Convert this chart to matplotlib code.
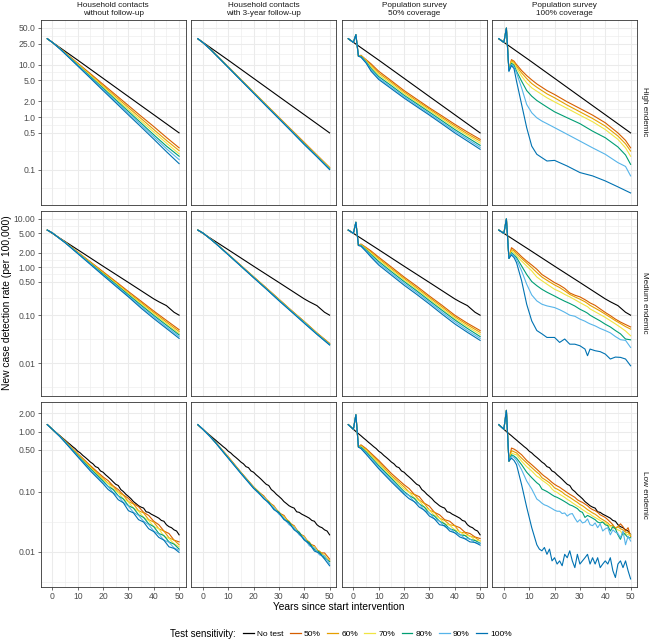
import numpy as np
import matplotlib
matplotlib.use("Agg")
import matplotlib.pyplot as plt
from matplotlib.lines import Line2D
from matplotlib.ticker import FixedLocator, NullFormatter

plt.rcParams['font.family'] = ['Liberation Sans', 'DejaVu Sans']

# ---------------- data ----------------
series_labels = ["No test", "50%", "60%", "70%", "80%", "90%", "100%"]
series_colors = ["#000000", "#D55E00", "#E69F00", "#F0E442", "#009E73", "#56B4E9", "#0072B2"]
col_titles = [("Household contacts", "without follow-up"), ("Household contacts", "with 3-year follow-up"),
              ("Population survey", "50% coverage"), ("Population survey", "100% coverage")]
row_titles = ["High endemic", "Medium endemic", "Low endemic"]

# "No test" reference line per endemic level
black_high_yrs = [-2, 10, 20, 30, 40, 50]
black_high = [31.0, 12.15, 5.47, 2.46, 1.11, 0.50]
black_med_yrs = [-2, 10, 20, 30, 38, 40, 42, 44, 45, 46, 48, 50]
black_med = [5.85, 2.29, 1.04, 0.478, 0.255, 0.218, 0.19, 0.168, 0.158, 0.142, 0.115, 0.10]
black_low_yrs = list(range(-2, 51))
black_low = [1.30, 1.19, 1.09, 1.00, 0.92, 0.85, 0.78, 0.72, 0.66, 0.61, 0.56, 0.52, 0.47,
             0.44, 0.40, 0.37, 0.34, 0.31, 0.29, 0.26, 0.25, 0.22, 0.21, 0.19, 0.175, 0.16,
             0.145, 0.132, 0.126, 0.108, 0.10, 0.09, 0.083, 0.076, 0.068, 0.063, 0.058, 0.055,
             0.053, 0.046, 0.045, 0.042, 0.040, 0.038, 0.036, 0.033, 0.032, 0.028, 0.026, 0.025,
             0.023, 0.022, 0.019]

# test-sensitivity series (50%, 60%, 70%, 80%, 90%, 100%) per panel
yrs_hh = [-2, 0, 3, 5, 10, 15, 20, 25, 30, 35, 40, 45, 50]
yrs_pop50 = [-2, 0, 1, 2, 3, 5, 7, 10, 15, 20, 25, 30, 35, 40, 45, 50]
yrs_pop100_high = [-2, 0, 1, 2, 3, 4, 5, 7, 9, 11, 13, 15, 17, 20, 25, 30, 35, 40, 45, 48, 50]
yrs_pop100_med = [-2, 0, 1, 2, 3, 4, 5, 7, 9, 11, 13, 15, 17, 20, 22, 24, 26, 28, 30, 32, 33,
                  34, 36, 38, 40, 42, 44, 46, 48, 50]
yrs_low_hh = [-2, 0, 3, 5, 10, 15, 20, 22, 24, 26, 28, 30, 32, 34, 36, 38, 40, 42, 44, 46, 48, 50]
yrs_low_pop50 = [-2, 0, 1, 2, 3, 5, 10, 15, 20, 22, 24, 26, 28, 30, 32, 34, 36, 38, 40, 42, 44,
                 46, 48, 50]
yrs_low_pop100 = [-2, 0, 1, 2, 3, 4, 5, 7, 9, 11] + list(range(13, 51))

high_hh_nofu = [
    [31, 26.4, 20.3, 16.9, 10.6, 6.7, 4.2, 2.64, 1.66, 1.04, 0.66, 0.41, 0.26],
    [31, 26.4, 20.2, 16.7, 10.3, 6.4, 3.95, 2.45, 1.52, 0.94, 0.58, 0.36, 0.23],
    [31, 26.4, 20.1, 16.5, 10.1, 6.2, 3.75, 2.28, 1.39, 0.85, 0.52, 0.32, 0.20],
    [31, 26.4, 20.0, 16.4, 9.8, 5.9, 3.55, 2.13, 1.28, 0.77, 0.46, 0.28, 0.18],
    [31, 26.4, 19.9, 16.2, 9.6, 5.7, 3.38, 2.0, 1.19, 0.71, 0.42, 0.25, 0.155],
    [31, 26.4, 19.8, 16.0, 9.4, 5.5, 3.2, 1.88, 1.10, 0.65, 0.38, 0.22, 0.13],
]
high_hh_fu3 = [
    [31, 26.2, 19.6, 15.8, 9.1, 5.2, 3.0, 1.72, 0.99, 0.57, 0.33, 0.19, 0.110],
    [31, 26.2, 19.5, 15.7, 9.0, 5.15, 2.97, 1.70, 0.97, 0.56, 0.32, 0.186, 0.108],
    [31, 26.2, 19.5, 15.6, 8.95, 5.1, 2.94, 1.68, 0.96, 0.55, 0.315, 0.183, 0.106],
    [31, 26.2, 19.4, 15.5, 8.9, 5.08, 2.91, 1.66, 0.95, 0.545, 0.31, 0.18, 0.104],
    [31, 26.2, 19.4, 15.5, 8.85, 5.04, 2.88, 1.64, 0.94, 0.54, 0.305, 0.178, 0.102],
    [31, 26.2, 19.3, 15.4, 8.8, 5.0, 2.85, 1.62, 0.93, 0.53, 0.30, 0.175, 0.100],
]
high_pop50 = [
    [31, 26.4, 37, 14.4, 15.0, 12.4, 10.3, 7.46, 4.9, 3.2, 2.19, 1.5, 1.05, 0.73, 0.52, 0.377],
    [31, 26.4, 37, 14.4, 14.8, 12.0, 9.6, 6.9, 4.6, 3.0, 2.05, 1.42, 0.98, 0.68, 0.48, 0.35],
    [31, 26.4, 37, 14.4, 14.5, 11.7, 9.0, 6.4, 4.3, 2.8, 1.92, 1.33, 0.92, 0.63, 0.45, 0.32],
    [31, 26.4, 37, 14.4, 14.3, 11.3, 8.4, 5.9, 3.95, 2.6, 1.8, 1.24, 0.85, 0.58, 0.41, 0.29],
    [31, 26.4, 37, 14.4, 14.0, 11.0, 7.9, 5.5, 3.7, 2.45, 1.68, 1.16, 0.79, 0.54, 0.38, 0.266],
    [31, 26.4, 37, 14.4, 13.8, 10.7, 7.46, 5.2, 3.46, 2.3, 1.58, 1.09, 0.74, 0.5, 0.35, 0.244],
]
high_pop100 = [
    [31, 26.4, 49.5, 7.7, 12.4, 11.6, 9.99, 7.7, 6.17, 5.1, 4.28, 3.7, 3.2, 2.69, 1.95, 1.46, 1.09, 0.78, 0.50, 0.36, 0.26],
    [31, 26.4, 49.5, 7.7, 11.9, 11.0, 9.28, 6.93, 5.41, 4.35, 3.7, 3.2, 2.77, 2.33, 1.69, 1.26, 0.94, 0.675, 0.436, 0.31, 0.226],
    [31, 26.4, 49.5, 7.7, 11.2, 10.4, 8.6, 6.0, 4.48, 3.6, 3.11, 2.69, 2.33, 1.95, 1.46, 1.09, 0.816, 0.58, 0.377, 0.26, 0.18],
    [31, 26.4, 49.5, 7.7, 10.6, 9.7, 7.46, 4.82, 3.2, 2.5, 2.07, 1.79, 1.55, 1.26, 0.97, 0.75, 0.54, 0.405, 0.27, 0.19, 0.126],
    [31, 26.4, 49.5, 7.46, 9.99, 9.0, 6.93, 3.6, 1.74, 1.21, 0.97, 0.84, 0.75, 0.63, 0.47, 0.35, 0.26, 0.196, 0.136, 0.115, 0.076],
    [31, 26.4, 49.5, 7.46, 9.54, 8.4, 4.82, 1.74, 0.63, 0.28, 0.196, 0.169, 0.146, 0.15, 0.117, 0.088, 0.076, 0.061, 0.047, 0.040, 0.036],
]

med_hh_nofu = [
    [5.85, 5.1, 3.9, 3.3, 2.05, 1.28, 0.80, 0.50, 0.31, 0.195, 0.122, 0.078, 0.050],
    [5.85, 5.1, 3.89, 3.28, 2.02, 1.25, 0.77, 0.48, 0.29, 0.183, 0.114, 0.072, 0.046],
    [5.85, 5.1, 3.88, 3.26, 1.99, 1.22, 0.74, 0.46, 0.28, 0.172, 0.106, 0.067, 0.042],
    [5.85, 5.1, 3.87, 3.24, 1.96, 1.19, 0.72, 0.44, 0.265, 0.161, 0.099, 0.062, 0.039],
    [5.85, 5.1, 3.86, 3.22, 1.93, 1.16, 0.69, 0.42, 0.25, 0.15, 0.092, 0.057, 0.036],
    [5.85, 5.1, 3.85, 3.20, 1.90, 1.13, 0.67, 0.40, 0.24, 0.14, 0.085, 0.053, 0.033],
]
med_hh_fu3 = [
    [5.85, 5.1, 3.85, 3.15, 1.85, 1.08, 0.63, 0.37, 0.215, 0.125, 0.074, 0.043, 0.026],
    [5.85, 5.1, 3.84, 3.14, 1.84, 1.07, 0.625, 0.365, 0.212, 0.123, 0.073, 0.042, 0.0255],
    [5.85, 5.1, 3.83, 3.13, 1.83, 1.06, 0.62, 0.36, 0.209, 0.122, 0.072, 0.042, 0.025],
    [5.85, 5.1, 3.82, 3.12, 1.82, 1.05, 0.61, 0.355, 0.206, 0.12, 0.071, 0.041, 0.0248],
    [5.85, 5.1, 3.81, 3.11, 1.81, 1.045, 0.605, 0.352, 0.203, 0.119, 0.07, 0.0405, 0.0244],
    [5.85, 5.1, 3.80, 3.10, 1.80, 1.04, 0.60, 0.35, 0.20, 0.117, 0.068, 0.040, 0.024],
]
med_pop50 = [
    [5.85, 5.0, 8.5, 2.8, 3.0, 2.55, 2.15, 1.6, 1.0, 0.62, 0.40, 0.25, 0.16, 0.10, 0.068, 0.048],
    [5.85, 5.0, 8.5, 2.8, 2.95, 2.46, 2.03, 1.5, 0.93, 0.58, 0.37, 0.233, 0.148, 0.093, 0.063, 0.044],
    [5.85, 5.0, 8.5, 2.8, 2.89, 2.37, 1.92, 1.4, 0.87, 0.54, 0.345, 0.216, 0.137, 0.086, 0.058, 0.040],
    [5.85, 5.0, 8.5, 2.8, 2.83, 2.28, 1.81, 1.3, 0.80, 0.50, 0.32, 0.2, 0.126, 0.08, 0.053, 0.036],
    [5.85, 5.0, 8.5, 2.8, 2.76, 2.19, 1.7, 1.2, 0.74, 0.46, 0.295, 0.185, 0.115, 0.073, 0.048, 0.033],
    [5.85, 5.0, 8.5, 2.8, 2.7, 2.1, 1.6, 1.1, 0.68, 0.42, 0.27, 0.17, 0.105, 0.066, 0.044, 0.030],
]
med_pop100 = [
    [5.85, 5.0, 10.0, 1.51, 2.52, 2.31, 2.08, 1.64, 1.33, 1.10, 0.90, 0.70, 0.60, 0.475, 0.42, 0.36, 0.29, 0.26, 0.24, 0.21, 0.195, 0.18, 0.16, 0.135, 0.114, 0.098, 0.083, 0.072, 0.064, 0.057],
    [5.85, 5.0, 10.0, 1.51, 2.31, 2.16, 1.89, 1.51, 1.21, 0.97, 0.77, 0.62, 0.53, 0.425, 0.375, 0.32, 0.27, 0.24, 0.215, 0.19, 0.175, 0.16, 0.14, 0.122, 0.105, 0.09, 0.077, 0.067, 0.058, 0.0514],
    [5.85, 5.0, 10.0, 1.51, 2.16, 1.99, 1.70, 1.33, 1.05, 0.83, 0.62, 0.52, 0.44, 0.345, 0.31, 0.27, 0.24, 0.21, 0.183, 0.16, 0.15, 0.135, 0.118, 0.103, 0.09, 0.077, 0.066, 0.056, 0.047, 0.0374],
    [5.85, 5.0, 10.0, 1.51, 1.99, 1.78, 1.57, 1.05, 0.70, 0.50, 0.41, 0.345, 0.30, 0.25, 0.22, 0.195, 0.175, 0.155, 0.133, 0.118, 0.11, 0.10, 0.087, 0.076, 0.065, 0.057, 0.048, 0.041, 0.032, 0.0308],
    [5.85, 5.0, 10.0, 1.51, 1.89, 1.70, 1.44, 0.83, 0.44, 0.263, 0.198, 0.169, 0.156, 0.144, 0.13, 0.115, 0.10, 0.095, 0.083, 0.075, 0.07, 0.066, 0.06, 0.053, 0.048, 0.043, 0.036, 0.031, 0.030, 0.0214],
    [5.85, 5.0, 10.0, 1.51, 1.78, 1.57, 1.23, 0.52, 0.169, 0.076, 0.048, 0.041, 0.0345, 0.0345, 0.0272, 0.032, 0.025, 0.025, 0.0232, 0.0198, 0.0144, 0.0198, 0.0183, 0.0175, 0.0156, 0.0123, 0.0135, 0.0133, 0.0123, 0.0089],
]

low_hh_nofu = [
    [1.3, 1.09, 0.84, 0.70, 0.43, 0.27, 0.175, 0.152, 0.124, 0.108, 0.088, 0.077, 0.063, 0.056, 0.045, 0.04, 0.032, 0.028, 0.022, 0.02, 0.0155, 0.0145],
    [1.3, 1.09, 0.84, 0.69, 0.42, 0.26, 0.165, 0.138, 0.122, 0.098, 0.087, 0.068, 0.062, 0.048, 0.044, 0.034, 0.031, 0.024, 0.022, 0.017, 0.0155, 0.013],
    [1.3, 1.09, 0.83, 0.68, 0.41, 0.25, 0.157, 0.136, 0.11, 0.096, 0.076, 0.067, 0.053, 0.047, 0.037, 0.033, 0.026, 0.024, 0.018, 0.0165, 0.0135, 0.012],
    [1.3, 1.09, 0.83, 0.675, 0.40, 0.24, 0.15, 0.122, 0.108, 0.085, 0.075, 0.058, 0.053, 0.041, 0.037, 0.029, 0.026, 0.02, 0.0185, 0.0145, 0.0133, 0.011],
    [1.3, 1.09, 0.82, 0.67, 0.39, 0.23, 0.142, 0.12, 0.096, 0.084, 0.066, 0.057, 0.045, 0.04, 0.032, 0.028, 0.022, 0.0195, 0.0155, 0.0143, 0.0115, 0.0105],
    [1.3, 1.09, 0.82, 0.66, 0.38, 0.22, 0.135, 0.108, 0.094, 0.073, 0.065, 0.048, 0.044, 0.034, 0.031, 0.024, 0.0215, 0.0172, 0.0155, 0.012, 0.0113, 0.0097],
]
low_hh_fu3 = [
    [1.3, 1.09, 0.82, 0.66, 0.38, 0.21, 0.12, 0.098, 0.085, 0.066, 0.058, 0.044, 0.04, 0.03, 0.027, 0.02, 0.018, 0.0135, 0.0125, 0.0095, 0.0095, 0.0075],
    [1.3, 1.09, 0.82, 0.66, 0.375, 0.208, 0.118, 0.1, 0.08, 0.069, 0.054, 0.046, 0.037, 0.032, 0.025, 0.021, 0.0165, 0.0145, 0.011, 0.0102, 0.0085, 0.007],
    [1.3, 1.09, 0.815, 0.655, 0.37, 0.206, 0.117, 0.096, 0.082, 0.065, 0.056, 0.043, 0.038, 0.029, 0.026, 0.0195, 0.0175, 0.013, 0.012, 0.0092, 0.0088, 0.0068],
    [1.3, 1.09, 0.815, 0.655, 0.365, 0.204, 0.116, 0.097, 0.078, 0.066, 0.052, 0.045, 0.035, 0.031, 0.024, 0.021, 0.016, 0.014, 0.0108, 0.0098, 0.0078, 0.0068],
    [1.3, 1.09, 0.81, 0.65, 0.362, 0.202, 0.114, 0.093, 0.08, 0.063, 0.054, 0.042, 0.036, 0.028, 0.025, 0.019, 0.0168, 0.0125, 0.0115, 0.0088, 0.0085, 0.0062],
    [1.3, 1.09, 0.81, 0.65, 0.36, 0.20, 0.113, 0.095, 0.076, 0.065, 0.05, 0.044, 0.034, 0.03, 0.023, 0.02, 0.0155, 0.0135, 0.0102, 0.0094, 0.0075, 0.0058],
]
low_pop50 = [
    [1.3, 1.09, 1.9, 0.55, 0.60, 0.52, 0.33, 0.20, 0.13, 0.112, 0.09, 0.082, 0.064, 0.057, 0.045, 0.041, 0.034, 0.032, 0.027, 0.025, 0.021, 0.02, 0.0175, 0.0165],
    [1.3, 1.09, 1.9, 0.55, 0.58, 0.50, 0.31, 0.185, 0.12, 0.098, 0.089, 0.072, 0.063, 0.049, 0.045, 0.036, 0.033, 0.028, 0.027, 0.021, 0.0205, 0.018, 0.0172, 0.015],
    [1.3, 1.09, 1.9, 0.55, 0.57, 0.48, 0.29, 0.175, 0.11, 0.097, 0.079, 0.07, 0.055, 0.049, 0.04, 0.036, 0.029, 0.0275, 0.023, 0.0215, 0.0185, 0.0183, 0.0155, 0.0152],
    [1.3, 1.09, 1.9, 0.55, 0.55, 0.46, 0.27, 0.165, 0.10, 0.086, 0.077, 0.062, 0.055, 0.043, 0.039, 0.032, 0.029, 0.024, 0.0225, 0.019, 0.0185, 0.016, 0.0153, 0.0138],
    [1.3, 1.09, 1.9, 0.55, 0.53, 0.44, 0.255, 0.155, 0.095, 0.085, 0.068, 0.062, 0.048, 0.044, 0.035, 0.032, 0.026, 0.0245, 0.0205, 0.0195, 0.0165, 0.0162, 0.014, 0.0137],
    [1.3, 1.09, 1.9, 0.55, 0.52, 0.42, 0.24, 0.145, 0.09, 0.076, 0.068, 0.055, 0.049, 0.039, 0.035, 0.028, 0.027, 0.022, 0.0205, 0.0175, 0.0163, 0.0145, 0.0142, 0.0128],
]
low_pop100 = [
    [1.3, 1.09, 2.25, 0.32, 0.53, 0.51, 0.48, 0.41, 0.33, 0.28, 0.235, 0.215, 0.195, 0.18, 0.168, 0.155, 0.142, 0.132, 0.124, 0.118, 0.11, 0.103, 0.096, 0.09, 0.085, 0.08, 0.073, 0.069, 0.066, 0.062, 0.058, 0.053, 0.05, 0.048, 0.045, 0.041, 0.039, 0.037, 0.034, 0.031, 0.028, 0.024, 0.026, 0.029, 0.026, 0.022, 0.025, 0.018],
    [1.3, 1.09, 2.25, 0.32, 0.48, 0.46, 0.44, 0.36, 0.30, 0.25, 0.21, 0.195, 0.17, 0.16, 0.15, 0.14, 0.128, 0.115, 0.11, 0.104, 0.098, 0.09, 0.085, 0.08, 0.075, 0.07, 0.066, 0.061, 0.058, 0.054, 0.05, 0.047, 0.044, 0.042, 0.039, 0.036, 0.034, 0.032, 0.03, 0.027, 0.027, 0.025, 0.026, 0.024, 0.023, 0.021, 0.021, 0.018],
    [1.3, 1.09, 2.25, 0.32, 0.44, 0.42, 0.41, 0.32, 0.26, 0.22, 0.18, 0.17, 0.155, 0.145, 0.135, 0.125, 0.11, 0.101, 0.097, 0.09, 0.085, 0.08, 0.074, 0.07, 0.065, 0.061, 0.057, 0.054, 0.05, 0.047, 0.044, 0.042, 0.039, 0.037, 0.035, 0.033, 0.031, 0.030, 0.028, 0.026, 0.025, 0.024, 0.023, 0.022, 0.019, 0.020, 0.019, 0.019],
    [1.3, 1.09, 2.25, 0.32, 0.41, 0.39, 0.36, 0.28, 0.21, 0.17, 0.14, 0.13, 0.11, 0.105, 0.10, 0.094, 0.088, 0.083, 0.08, 0.076, 0.072, 0.068, 0.064, 0.06, 0.058, 0.055, 0.052, 0.047, 0.045, 0.037, 0.04, 0.038, 0.036, 0.034, 0.031, 0.030, 0.031, 0.028, 0.027, 0.022, 0.026, 0.024, 0.019, 0.016, 0.021, 0.019, 0.017, 0.017],
    [1.3, 1.09, 2.25, 0.32, 0.385, 0.37, 0.33, 0.23, 0.15, 0.11, 0.075, 0.07, 0.064, 0.06, 0.058, 0.055, 0.052, 0.049, 0.047, 0.047, 0.043, 0.044, 0.039, 0.042, 0.043, 0.036, 0.031, 0.034, 0.03, 0.031, 0.035, 0.028, 0.027, 0.03, 0.025, 0.029, 0.022, 0.024, 0.025, 0.019, 0.023, 0.021, 0.02, 0.017, 0.022, 0.013, 0.018, 0.015],
    [1.3, 1.09, 2.25, 0.32, 0.36, 0.33, 0.28, 0.13, 0.055, 0.025, 0.013, 0.011, 0.0103, 0.0117, 0.009, 0.011, 0.007, 0.0079, 0.0062, 0.007, 0.0058, 0.009, 0.0079, 0.0103, 0.007, 0.0054, 0.009, 0.0062, 0.007, 0.0079, 0.009, 0.0062, 0.0079, 0.0062, 0.0079, 0.0054, 0.0062, 0.007, 0.0062, 0.0079, 0.0048, 0.0037, 0.0062, 0.007, 0.0054, 0.007, 0.0048, 0.0035],
]

panels = [
    [(yrs_hh, high_hh_nofu), (yrs_hh, high_hh_fu3), (yrs_pop50, high_pop50), (yrs_pop100_high, high_pop100)],
    [(yrs_hh, med_hh_nofu), (yrs_hh, med_hh_fu3), (yrs_pop50, med_pop50), (yrs_pop100_med, med_pop100)],
    [(yrs_low_hh, low_hh_nofu), (yrs_low_hh, low_hh_fu3), (yrs_low_pop50, low_pop50), (yrs_low_pop100, low_pop100)],
]
blacks = [(black_high_yrs, black_high), (black_med_yrs, black_med), (black_low_yrs, black_low)]

y_breaks = [[0.1, 0.5, 1.0, 2.0, 5.0, 10.0, 25.0, 50.0],
            [0.01, 0.1, 0.5, 1.0, 2.0, 5.0, 10.0],
            [0.01, 0.1, 0.5, 1.0, 2.0]]
y_fmt = ["{:.1f}", "{:.2f}", "{:.2f}"]
y_lims = [(0.0217, 72.0), (0.00212, 14.7), (0.00256, 3.09)]
x_breaks = [0, 10, 20, 30, 40, 50]

# ---------------- layout ----------------
W, H = 649, 641
fig = plt.figure(figsize=(W / 100, H / 100), dpi=100)
col_left = [40.7, 191.2, 341.7, 492.2]
pw = 145.0
row_top = [19.5, 210.8, 402.1]
ph = 185.0

grid_col = "#EBEBEB"
text_col = "#4D4D4D"
strip_col = "#1A1A1A"


def minor_breaks(b):
    lb = np.log10(b)
    d = lb[1] - lb[0]
    ext = np.concatenate([[lb[0] - d], lb, [lb[-1] + d]])
    mids = (ext[:-1] + ext[1:]) / 2
    return 10 ** mids


for r in range(3):
    for c in range(4):
        ax = fig.add_axes([col_left[c] / W, 1 - (row_top[r] + ph) / H, pw / W, ph / H])
        ax.set_yscale("log")
        ax.set_xlim(-4.6, 52.6)
        ax.set_ylim(*y_lims[r])
        # grid
        for xv in x_breaks:
            ax.axvline(xv, color=grid_col, lw=0.75, zorder=0)
        for xv in [5, 15, 25, 35, 45]:
            ax.axvline(xv, color=grid_col, lw=0.4, zorder=0)
        for yv in y_breaks[r]:
            ax.axhline(yv, color=grid_col, lw=0.75, zorder=0)
        for yv in minor_breaks(y_breaks[r]):
            ax.axhline(yv, color=grid_col, lw=0.4, zorder=0)
        # lines
        by, bv = blacks[r]
        ax.plot(by, bv, color=series_colors[0], lw=0.8, zorder=2)
        yrs, vals = panels[r][c]
        for k, v in enumerate(vals):
            ax.plot(yrs, v, color=series_colors[k + 1], lw=0.8, zorder=3 + k)
        # axes cosmetics
        for s in ax.spines.values():
            s.set_color("#333333")
            s.set_linewidth(0.6)
        ax.yaxis.set_major_locator(FixedLocator(y_breaks[r]))
        ax.yaxis.set_minor_locator(FixedLocator([]))
        ax.yaxis.set_minor_formatter(NullFormatter())
        ax.set_xticks(x_breaks)
        ax.tick_params(axis="both", which="major", length=2.2, width=0.5, color="#333333",
                       labelsize=6.2, labelcolor=text_col, pad=1.5)
        if c == 0:
            ax.set_yticklabels([y_fmt[r].format(v) for v in y_breaks[r]])
        else:
            ax.tick_params(axis="y", left=False, labelleft=False)
        if r == 2:
            ax.set_xticklabels([str(v) for v in x_breaks])
        else:
            ax.tick_params(axis="x", bottom=False, labelbottom=False)

# column strips (top) and row strips (right)
for c in range(4):
    xc = (col_left[c] + pw / 2) / W
    fig.text(xc, 1 - 7.0 / H, col_titles[c][0], ha="center", va="baseline", fontsize=5.9,
             color=strip_col)
    fig.text(xc, 1 - 14.6 / H, col_titles[c][1], ha="center", va="baseline", fontsize=5.9,
             color=strip_col)
for r in range(3):
    yc = 1 - (row_top[r] + ph / 2) / H
    fig.text(644.5 / W, yc, row_titles[r], rotation=270, ha="center", va="center",
             fontsize=5.9, color=strip_col)

fig.text(7 / W, 1 - 303 / H, "New case detection rate (per 100,000)", rotation=90,
         ha="center", va="center", fontsize=7.4)
fig.text(339 / W, 1 - 607 / H, "Years since start intervention", ha="center", va="center",
         fontsize=7.4)

handles = [Line2D([], [], color=col, lw=0.9) for col in series_colors]
fig.text(203 / W, 1 - 634 / H, "Test sensitivity:", ha="center", va="center", fontsize=7.0)
fig.legend(handles, series_labels, loc="center left", bbox_to_anchor=(243 / W, 1 - 634 / H),
           ncol=7, frameon=False, fontsize=6.0, handlelength=1.3, handletextpad=0.4,
           columnspacing=0.75, borderpad=0, borderaxespad=0)

fig.savefig("out.png", dpi=100)
